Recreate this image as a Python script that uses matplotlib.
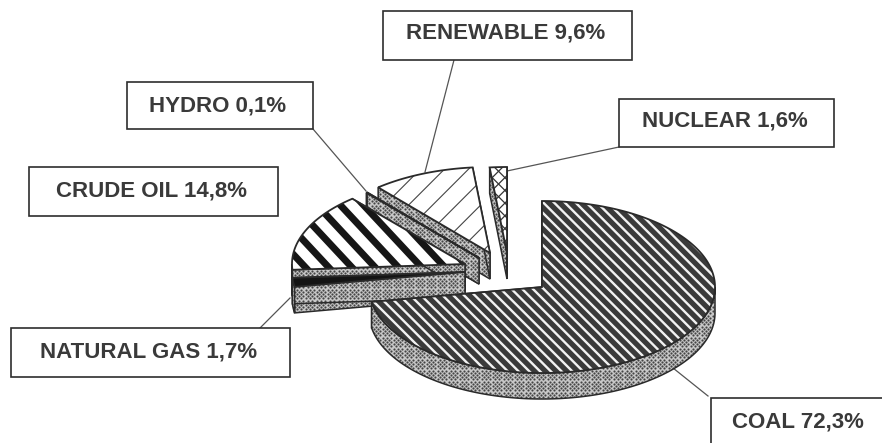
import numpy as np
import matplotlib
matplotlib.use("Agg")
import matplotlib.pyplot as plt
from matplotlib.collections import LineCollection
from matplotlib.patches import Polygon, Rectangle

plt.rcParams['font.family'] = ['Liberation Sans', 'DejaVu Sans']

# shares in percent, clockwise from 12 o'clock
names = ["COAL", "NATURAL GAS", "CRUDE OIL", "HYDRO", "RENEWABLE", "NUCLEAR"]
shares = [72.3, 1.7, 14.8, 0.1, 9.6, 1.6]
share_labels = ["72,3%", "1,7%", "14,8%", "0,1%", "9,6%", "1,6%"]

# pie shape, in pixels
RX, RY, DEPTH = 173, 86, 26
INK = "#2a2a2a"

# where each slice's tip ended up after exploding it
tips = {
    "COAL": (542, 287),
    "NATURAL GAS": (465, 272),
    "CRUDE OIL": (465, 264),
    "HYDRO": (479, 258),
    "RENEWABLE": (490, 253),
    "NUCLEAR": (507, 253),
}

boxes = {
    "COAL": (711, 398, 190, 60),
    "NATURAL GAS": (11, 328, 279, 49),
    "CRUDE OIL": (29, 167, 249, 49),
    "HYDRO": (127, 82, 186, 47),
    "RENEWABLE": (383, 11, 249, 49),
    "NUCLEAR": (619, 99, 215, 48),
}
text_centres = {
    "COAL": (798, 422),
    "NATURAL GAS": (149, 352),
    "CRUDE OIL": (151, 191),
    "HYDRO": (218, 106),
    "RENEWABLE": (506, 33),
    "NUCLEAR": (725, 121),
}
leaders = {
    "COAL": ((673, 368), (708, 396)),
    "NATURAL GAS": ((260, 328), (290, 298)),
    "HYDRO": ((313, 129), (366, 191)),
    "RENEWABLE": ((454, 60), (425, 172)),
    "NUCLEAR": ((619, 147), (507, 171)),
}

fig = plt.figure(figsize=(8.82, 4.43), dpi=100)
ax = fig.add_axes([0, 0, 1, 1])
ax.set_xlim(0, 882)
ax.set_ylim(443, 0)
ax.axis("off")


def rim(tip, a0, a1):
    t = np.radians(np.linspace(a0, a1, max(2, int(a1 - a0) * 2)))
    return np.column_stack([tip[0] + RX * np.sin(t), tip[1] - RY * np.cos(t)])


def stripes(patch, spacing, lw, color, angle=45, zorder=3):
    # parallel lines clipped to the patch, angle measured on screen
    xy = patch.get_xy()
    d = np.radians(angle)
    along = np.array([np.cos(d), np.sin(d)])
    across = np.array([-along[1], along[0]])
    p = xy @ across
    mid = xy.mean(axis=0)
    segs = []
    for v in np.arange(p.min(), p.max() + spacing, spacing):
        c = mid + across * (v - mid @ across)
        segs.append([c - along * 400, c + along * 400])
    lc = LineCollection(segs, colors=color, linewidths=lw, zorder=zorder)
    ax.add_collection(lc)
    lc.set_clip_path(patch)


def stipple(poly, zorder):
    patch = Polygon(poly, closed=True, facecolor="#c8c8c8", edgecolor="none", zorder=zorder)
    ax.add_patch(patch)
    x0, y0 = poly.min(axis=0)
    x1, y1 = poly.max(axis=0)
    xs, ys = [], []
    for row, y in enumerate(np.arange(y0, y1 + 3, 2.2)):
        shift = 2.2 if row % 2 else 0
        for x in np.arange(x0 + shift, x1 + 4, 4.4):
            xs.append(x)
            ys.append(y)
    dots = ax.scatter(xs, ys, s=2.4, c="#444444", linewidths=0, zorder=zorder)
    dots.set_clip_path(patch)
    ax.add_patch(Polygon(poly, closed=True, fill=False, edgecolor=INK, linewidth=1.1, zorder=zorder))


def slice_sides(tip, a0, a1, zorder):
    arr = np.array(tip, dtype=float)
    # the two cut faces
    for a in (a0, a1):
        outer = rim(tip, a, a + 0.01)[0]
        face = np.array([arr, outer, outer + [0, DEPTH], arr + [0, DEPTH]])
        stipple(face, zorder)
    # the outer wall, only where it faces the viewer
    lo, hi = max(a0, 90), min(a1, 270)
    if hi > lo:
        edge = rim(tip, lo, hi)
        wall = np.vstack([edge, (edge + [0, DEPTH])[::-1]])
        stipple(wall, zorder)


def slice_top(tip, a0, a1, zorder):
    poly = np.vstack([[tip], rim(tip, a0, a1)])
    patch = Polygon(poly, closed=True, facecolor="white", edgecolor="none", zorder=zorder)
    ax.add_patch(patch)
    return poly, patch


def outline(poly, zorder, lw=1.3):
    ax.add_patch(Polygon(poly, closed=True, fill=False, edgecolor=INK, linewidth=lw, zorder=zorder))


def paint_top(name, poly, patch, z):
    if name == "COAL":
        patch.set_facecolor("#3a3a3a")
        stripes(patch, 7.6, 1.7, "#f2f2f2", 45, z)
    elif name == "NATURAL GAS":
        patch.set_facecolor("#141414")
    elif name == "CRUDE OIL":
        stripes(patch, 17, 5.0, "#161616", 47, z)
    elif name == "RENEWABLE":
        stripes(patch, 17, 0.8, "#444444", -45, z)
    elif name == "NUCLEAR":
        stripes(patch, 9, 0.9, "#333333", -45, z)
        stripes(patch, 9, 0.9, "#333333", 45, z)
    elif name == "HYDRO":
        patch.set_facecolor("#555555")
    outline(poly, z)


angles = np.cumsum([0] + shares) / sum(shares) * 360
spans = {n: (angles[i], angles[i + 1]) for i, n in enumerate(names)}

# back to front, coal goes last so its top edge trims the gas slice
order = ["NUCLEAR", "RENEWABLE", "HYDRO", "CRUDE OIL", "NATURAL GAS", "COAL"]
for i, name in enumerate(order):
    a0, a1 = spans[name]
    z = 2 + i * 2
    slice_sides(tips[name], a0, a1, z)
    poly, patch = slice_top(tips[name], a0, a1, z + 1)
    paint_top(name, poly, patch, z + 1)

# leader lines
for name, (p0, p1) in leaders.items():
    ax.plot([p0[0], p1[0]], [p0[1], p1[1]], color="#555555", lw=0.9, zorder=1)

# label boxes
for name, share in zip(names, share_labels):
    x, y, w, h = boxes[name]
    ax.add_patch(Rectangle((x, y), w, h, facecolor="white", edgecolor="#2e2e2e", linewidth=1.2, zorder=20))
    cx, cy = text_centres[name]
    ax.text(cx, cy, f"{name} {share}", ha="center", va="center", fontsize=16,
            fontweight="bold", color="#3a3a3a", zorder=21)

fig.savefig("out.png", dpi=100)
